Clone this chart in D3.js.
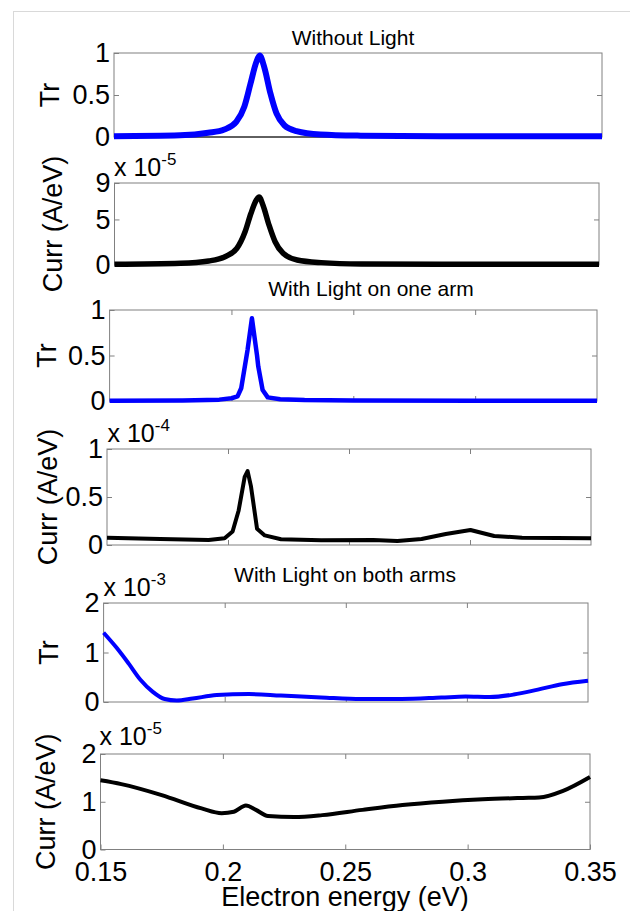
<!DOCTYPE html>
<html><head><meta charset="utf-8">
<script src="https://cdn.jsdelivr.net/npm/d3@7"></script>
<style>body{margin:0;background:#fff}text{font-family:"Liberation Sans",Arial,Helvetica,sans-serif}</style>
</head><body><svg id="c" width="630" height="911"></svg>
<script>
// ---------------- DATA ----------------
const xDomain=[0.15,0.35];
const xTicks=[0.15,0.2,0.25,0.3,0.35];
const xTickLabels=["0.15","0.2","0.25","0.3","0.35"];
const titles=["Without Light","With Light on one arm","With Light on both arms"];

// Panel 1: Tr, without light
const eNoLightTr=[0.15,0.1771,0.1886,0.1952,0.2001,0.2034,0.2059,0.2083,0.2097,0.2116,0.2141,0.2166,0.2198,0.2248,0.2346,0.2511,0.2839,0.35];
const trNoLight=[0.01,0.02,0.05,0.09,0.18,0.36,0.63,0.89,0.97,0.83,0.52,0.28,0.14,0.07,0.03,0.016,0.008,0.008];
const yTicksTr=[0,0.5,1];
const yTickLabelsTr=["0","0.5","1"];

// Panel 2: Current, without light (x 1e-5)
const eNoLightCurr=[0.15,0.1773,0.1889,0.1956,0.2005,0.2039,0.2063,0.2085,0.2097,0.2113,0.2138,0.2163,0.2196,0.2254,0.2353,0.2519,0.285,0.35];
const currNoLight=[0.07,0.18,0.44,0.91,1.82,3.64,5.65,7.1,7.47,6.56,4.37,2.55,1.28,0.55,0.26,0.11,0.07,0.07];
const yTicksCurr1=[0,5,9];
const yTickLabelsCurr1=["0","5","9"];

// Panel 3: Tr, light on one arm
const eOneArmTr=[0.15,0.18,0.19,0.195,0.2,0.2025,0.204,0.2066,0.2084,0.2105,0.211,0.2128,0.2149,0.22,0.23,0.25,0.3,0.35];
const trOneArm=[0.003,0.005,0.01,0.015,0.03,0.05,0.14,0.56,0.91,0.5,0.38,0.12,0.04,0.02,0.01,0.005,0.003,0.003];

// Panel 4: Current, light on one arm (x 1e-4)
const eOneArmCurr=[0.15,0.172,0.192,0.1986,0.2019,0.2044,0.2069,0.2081,0.2095,0.212,0.2152,0.2219,0.2385,0.26,0.27,0.28,0.29,0.3002,0.31,0.3215,0.35];
const currOneArm=[0.076,0.062,0.052,0.07,0.14,0.36,0.71,0.77,0.61,0.17,0.10,0.06,0.049,0.052,0.042,0.062,0.115,0.156,0.094,0.076,0.07];
const yTicksCurr2=[0,0.5,1];
const yTickLabelsCurr2=["0","0.5","1"];

// Panel 5: Tr, light on both arms (x 1e-3)
const eBothArmsTr=[0.15,0.1553,0.1603,0.1652,0.1702,0.1752,0.1802,0.1868,0.1967,0.21,0.2232,0.2398,0.2564,0.273,0.2895,0.2995,0.3094,0.3193,0.3293,0.3392,0.35];
const trBothArms=[1.40,1.10,0.78,0.45,0.21,0.06,0.03,0.07,0.14,0.16,0.13,0.093,0.06,0.06,0.09,0.11,0.10,0.15,0.25,0.36,0.43];
const yTicksTr3=[0,1,2];
const yTickLabelsTr3=["0","1","2"];

// Panel 6: Current, light on both arms (x 1e-5)
const eBothArmsCurr=[0.15,0.1585,0.175,0.1913,0.1995,0.2045,0.2094,0.2135,0.2184,0.2291,0.2406,0.257,0.2734,0.2898,0.3062,0.3226,0.3292,0.339,0.35];
const currBothArms=[1.45,1.37,1.14,0.86,0.76,0.79,0.92,0.83,0.70,0.68,0.72,0.83,0.93,1.0,1.05,1.08,1.09,1.23,1.52];
const yTicksCurr3=[0,1,2];
const yTickLabelsCurr3=["0","1","2"];

// ---------------- DRAW ----------------
const svg=d3.select("#c");
const FONT='"Liberation Sans",Arial,Helvetica,sans-serif';
const FRAME="#808080";

// page border
svg.append("line").attr("x1",13.5).attr("x2",13.5).attr("y1",11).attr("y2",911).attr("stroke","#d9d9d9");
svg.append("line").attr("x1",13).attr("x2",630).attr("y1",11.5).attr("y2",11.5).attr("stroke","#d9d9d9");

function panel(c){
  const x=d3.scaleLinear().domain(xDomain).range([c.x0,c.x1]);
  const y=d3.scaleLinear().domain(c.yDomain).range([c.y1,c.y0]);
  const g=svg.append("g");
  g.append("rect").attr("x",c.x0).attr("y",c.y0).attr("width",c.x1-c.x0).attr("height",c.y1-c.y0)
    .attr("fill","#fff").attr("stroke",FRAME).attr("stroke-width",1);
  if(c.blackBottom){
    g.append("line").attr("x1",c.x0).attr("x2",c.x1).attr("y1",c.y1).attr("y2",c.y1).attr("stroke","#000");
  }
  const style=(sel)=>{sel.select(".domain").remove();sel.selectAll("line").attr("stroke",FRAME);
    sel.selectAll("text").attr("font-size",27).attr("font-family",FONT).attr("fill","#000");};
  g.append("g").attr("transform",`translate(${c.x0},0)`)
    .call(d3.axisLeft(y).tickValues(c.yTicks).tickFormat((d,i)=>c.yLabels[i]).tickSizeInner(-5).tickSizeOuter(0).tickPadding(4)).call(style);
  g.append("g").attr("transform",`translate(${c.x1},0)`)
    .call(d3.axisRight(y).tickValues(c.yTicks.slice(1,-1)).tickFormat("").tickSizeInner(-5).tickSizeOuter(0)).call(style);
  if(c.xInner){
    const inner=xTicks.slice(1,-1);
    g.append("g").attr("transform",`translate(0,${c.y0})`)
      .call(d3.axisTop(x).tickValues(inner).tickFormat("").tickSizeInner(-5).tickSizeOuter(0)).call(style);
    g.append("g").attr("transform",`translate(0,${c.y1})`)
      .call(d3.axisBottom(x).tickValues(c.xLabels?xTicks:inner).tickFormat((d,i)=>c.xLabels?xTickLabels[i]:"").tickSizeInner(-5).tickSizeOuter(0).tickPadding(12)).call(style);
  }
  const line=d3.line().x((d,i)=>x(c.e[i])).y(d=>y(d)).curve(c.curve);
  g.append("path").datum(c.v).attr("d",line).attr("fill","none").attr("stroke",c.color)
    .attr("stroke-width",c.lw).attr("stroke-linejoin","round").attr("stroke-linecap","butt");
  // y label
  g.append("text").attr("transform",`translate(${c.labX},${(c.y0+c.y1)/2+c.labDy}) rotate(-90)`)
    .attr("text-anchor","middle").attr("font-size",27).attr("font-family",FONT).text(c.ylab);
  if(c.exp){
    const t=g.append("text").attr("x",c.exp.x).attr("y",c.exp.y).attr("font-size",25).attr("font-family",FONT);
    t.append("tspan").text("x 10");
    t.append("tspan").attr("font-size",17).attr("dy",-11).text(c.exp.p);
  }
}

panel({x0:114,x1:602,y0:53,y1:137,yDomain:[0,1],yTicks:yTicksTr,yLabels:yTickLabelsTr,
  e:eNoLightTr,v:trNoLight,color:"#0000ff",lw:6,curve:d3.curveMonotoneX,ylab:"Tr",labX:59,labDy:0,blackBottom:true});
panel({x0:114.5,x1:599,y0:183,y1:265,yDomain:[0,9],yTicks:yTicksCurr1,yLabels:yTickLabelsCurr1,
  e:eNoLightCurr,v:currNoLight,color:"#000",lw:5.5,curve:d3.curveMonotoneX,ylab:"Curr (A/eV)",labX:62,labDy:0,
  exp:{x:114,y:176,p:"-5"}});
panel({x0:109.6,x1:597,y0:310,y1:401,yDomain:[0,1],yTicks:yTicksTr,yLabels:yTickLabelsTr,xInner:true,
  e:eOneArmTr,v:trOneArm,color:"#0000ff",lw:4.5,curve:d3.curveLinear,ylab:"Tr",labX:56,labDy:0});
panel({x0:107,x1:591,y0:449,y1:545,yDomain:[0,1],yTicks:yTicksCurr2,yLabels:yTickLabelsCurr2,xInner:true,
  e:eOneArmCurr,v:currOneArm,color:"#000",lw:4,curve:d3.curveLinear,ylab:"Curr (A/eV)",labX:57,labDy:0,
  exp:{x:107.5,y:441.5,p:"-4"}});
panel({x0:103.6,x1:588,y0:603,y1:702,yDomain:[0,2],yTicks:yTicksTr3,yLabels:yTickLabelsTr3,xInner:true,
  e:eBothArmsTr,v:trBothArms,color:"#0000ff",lw:4,curve:d3.curveMonotoneX,ylab:"Tr",labX:58,labDy:0,
  exp:{x:103.5,y:596,p:"-3"}});
panel({x0:100.5,x1:590,y0:754,y1:849.5,yDomain:[0,2],yTicks:yTicksCurr3,yLabels:yTickLabelsCurr3,xInner:true,xLabels:true,
  e:eBothArmsCurr,v:currBothArms,color:"#000",lw:4,curve:d3.curveMonotoneX,ylab:"Curr (A/eV)",labX:55,labDy:0,
  exp:{x:99.5,y:745,p:"-5"}});

// titles
const titlePos=[[353,45],[371,296],[345,582]];
titles.forEach((t,i)=>svg.append("text").attr("x",titlePos[i][0]).attr("y",titlePos[i][1]).attr("text-anchor","middle")
  .attr("font-size",21).attr("font-family",FONT).text(t));
svg.append("text").attr("x",345).attr("y",906).attr("text-anchor","middle").attr("font-size",27).attr("font-family",FONT)
  .text("Electron energy (eV)");
</script></body></html>
